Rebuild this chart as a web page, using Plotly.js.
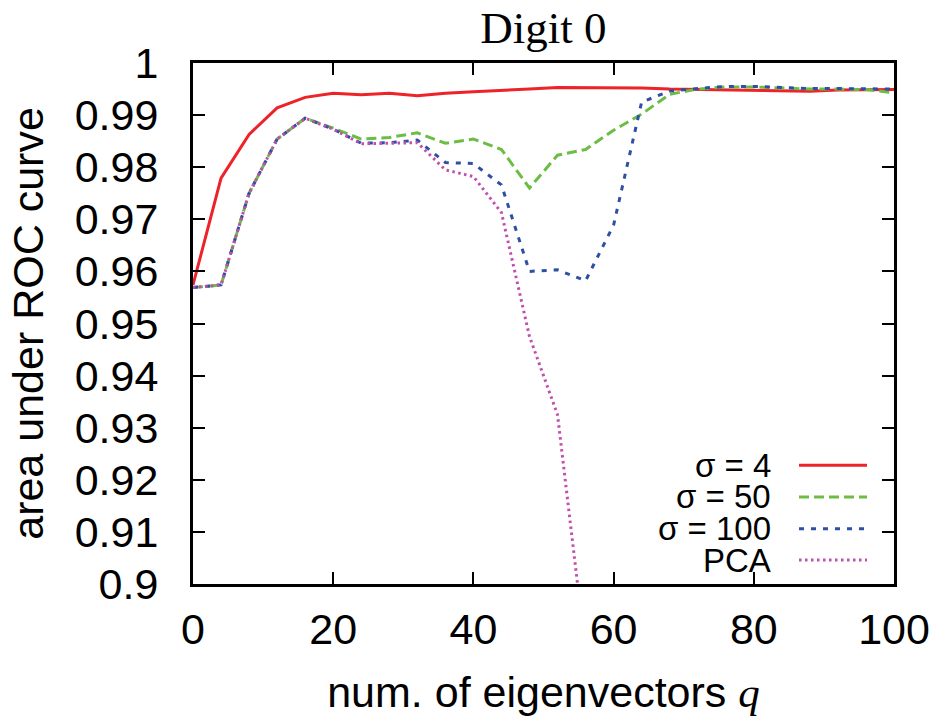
<!DOCTYPE html>
<html>
<head>
<meta charset="utf-8">
<script src="https://cdn.plot.ly/plotly-3.0.1.min.js"></script>
<style>html,body{margin:0;padding:0;background:#fff;}</style>
</head>
<body>
<div id="chart" style="width:934px;height:721px;"></div>
<script>
// number of eigenvectors q
const q = [0,4,8,12,16,20,24,28,32,36,40,44,48,52,56,60,64,68,72,76,80,84,88,92,96,100];
// area under ROC curve
const sigma4 = [0.9574,0.9779,0.9863,0.9914,0.9934,0.9942,0.9939,0.9942,0.9937,0.9942,0.9945,0.9947,0.9950,0.9953,0.9953,0.9953,0.9952,0.9950,0.9949,0.9949,0.9947,0.9946,0.9946,0.9948,0.9949,0.9949];
const sigma50 = [0.9569,0.9574,0.9750,0.9854,0.9894,0.9875,0.9854,0.9857,0.9866,0.9846,0.9854,0.9834,0.9760,0.9823,0.9834,0.9871,0.9902,0.9940,0.9950,0.9954,0.9954,0.9952,0.9950,0.9950,0.9949,0.9943];
const sigma100 = [0.9569,0.9574,0.9750,0.9854,0.9894,0.9873,0.9846,0.9847,0.9852,0.9809,0.9807,0.9766,0.9600,0.9603,0.9582,0.9689,0.9925,0.9946,0.9951,0.9955,0.9955,0.9953,0.9951,0.9951,0.9950,0.9950];
const pca = [0.9569,0.9574,0.9750,0.9854,0.9894,0.9873,0.9845,0.9846,0.9847,0.9795,0.9782,0.9713,0.9475,0.9325,0.8870];
const seriesNames = ["σ = 4","σ = 50","σ = 100","PCA"];
const yTicks = [0.9,0.91,0.92,0.93,0.94,0.95,0.96,0.97,0.98,0.99,1];
const yTickText = ["0.9","0.91","0.92","0.93","0.94","0.95","0.96","0.97","0.98","0.99","1"];
const xTicks = [0,20,40,60,80,100];

const colors = ["#ee2229","#6cbd45","#2e4fa3","#c04fad"];
const dashes = ["solid","10px,5px","5px,7px","2.5px,3.5px"];
const values = [sigma4, sigma50, sigma100, pca];

const traces = values.map((v,i)=>({
  x: q.slice(0, v.length), y: v, type:"scatter", mode:"lines", name: seriesNames[i],
  line:{color:colors[i], width:3, dash:dashes[i]}, showlegend:false, cliponaxis:true
}));

// manual legend (text to the left of the sample line, as in the reference)
const legY = [0.228, 0.167, 0.106, 0.046];
const annotations = seriesNames.map((n,i)=>({
  xref:"paper", yref:"paper", x:0.827, y:legY[i], xanchor:"right", yanchor:"middle",
  text:n, showarrow:false, font:{family:"Liberation Sans, Arial, sans-serif", size:33, color:"#000"}
}));
const shapes = seriesNames.map((n,i)=>({
  type:"line", xref:"paper", yref:"paper", x0:0.8645, x1:0.9615, y0:legY[i], y1:legY[i],
  line:{color:colors[i], width:3, dash:dashes[i]}
}));

const tickFont = {family:"Liberation Sans, Arial, sans-serif", size:43, color:"#000"};
const titleFont = {family:"Liberation Sans, Arial, sans-serif", size:43, color:"#000"};
const layout = {
  width:934, height:721,
  margin:{l:193, r:40, t:63, b:137},
  paper_bgcolor:"#fff", plot_bgcolor:"#fff",
  title:{text:"Digit 0", font:{family:"Liberation Serif, Times New Roman, serif", size:45, color:"#000"},
         x:0.5, xref:"paper", xanchor:"center", y:0.962, yref:"container", yanchor:"middle"},
  xaxis:{range:[0,100], tickvals:xTicks, ticks:"inside", ticklen:12, tickwidth:2, tickcolor:"#000",
         showline:true, linewidth:3, linecolor:"#000", mirror:"ticks", showgrid:false, zeroline:false,
         tickfont:tickFont, ticklabelstandoff:5,
         title:{text:'num. of eigenvectors <i><span style="font-family:Liberation Serif, Times New Roman, serif">q</span></i>', font:titleFont, standoff:26},
         automargin:false},
  yaxis:{range:[0.9,1], tickvals:yTicks, ticktext:yTickText, ticks:"inside", ticklen:12, tickwidth:2, tickcolor:"#000",
         showline:true, linewidth:3, linecolor:"#000", mirror:"ticks", showgrid:false, zeroline:false,
         tickfont:tickFont, ticklabelstandoff:23,
         title:{text:"area under ROC curve", font:titleFont, standoff:18},
         automargin:false},
  annotations: annotations,
  shapes: shapes,
  showlegend:false
};
Plotly.newPlot("chart", traces, layout, {displayModeBar:false, staticPlot:true});
</script>
</body>
</html>
